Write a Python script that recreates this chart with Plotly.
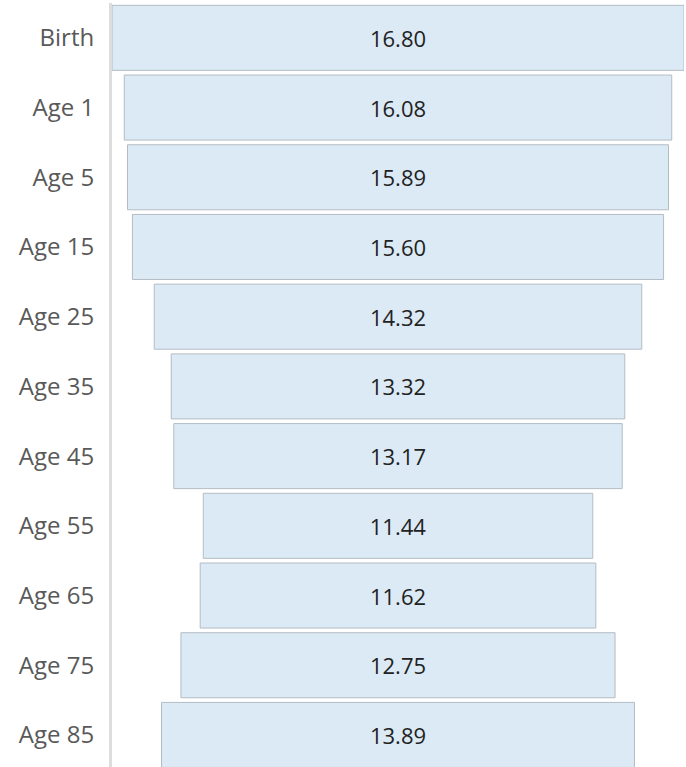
import plotly.graph_objects as go

stages = ["Birth", "Age 1", "Age 5", "Age 15", "Age 25", "Age 35",
          "Age 45", "Age 55", "Age 65", "Age 75", "Age 85"]
values = [16.80, 16.08, 15.89, 15.60, 14.32, 13.32, 13.17, 11.44, 11.62, 12.75, 13.89]
labels = [f"{v:.2f}" for v in values]

fig = go.Figure(
    go.Funnel(
        y=stages,
        x=values,
        text=labels,
        textinfo="text",
        textposition="inside",
        insidetextanchor="middle",
        constraintext="none",
        textfont=dict(family="Open Sans", size=22, color="#222222"),
        marker=dict(color="#dbeaf5", line=dict(color="#b4bcc4", width=1)),
        connector=dict(visible=False),
        hoverinfo="y+x",
    )
)

half = max(values) / 2
# bottom row runs slightly past the window edge, as in the original
fig.update_layout(
    width=686,
    height=767,
    margin=dict(l=112, r=2, t=3, b=0),
    plot_bgcolor="white",
    paper_bgcolor="white",
    showlegend=False,
    funnelgap=0.067,
    xaxis=dict(visible=False, range=[-half, half]),
    yaxis=dict(
        automargin=False,
        range=[10.46, -0.5],
        showline=True,
        linecolor="#dddddd",
        linewidth=3,
        showgrid=False,
        ticks="",
        ticklabelstandoff=10,
        tickfont=dict(family="Open Sans", size=24, color="#595959"),
    ),
)

fig.write_html(
    "out.html",
    config={"displayModeBar": False},
    post_script="document.body.style.margin='0';",
)
